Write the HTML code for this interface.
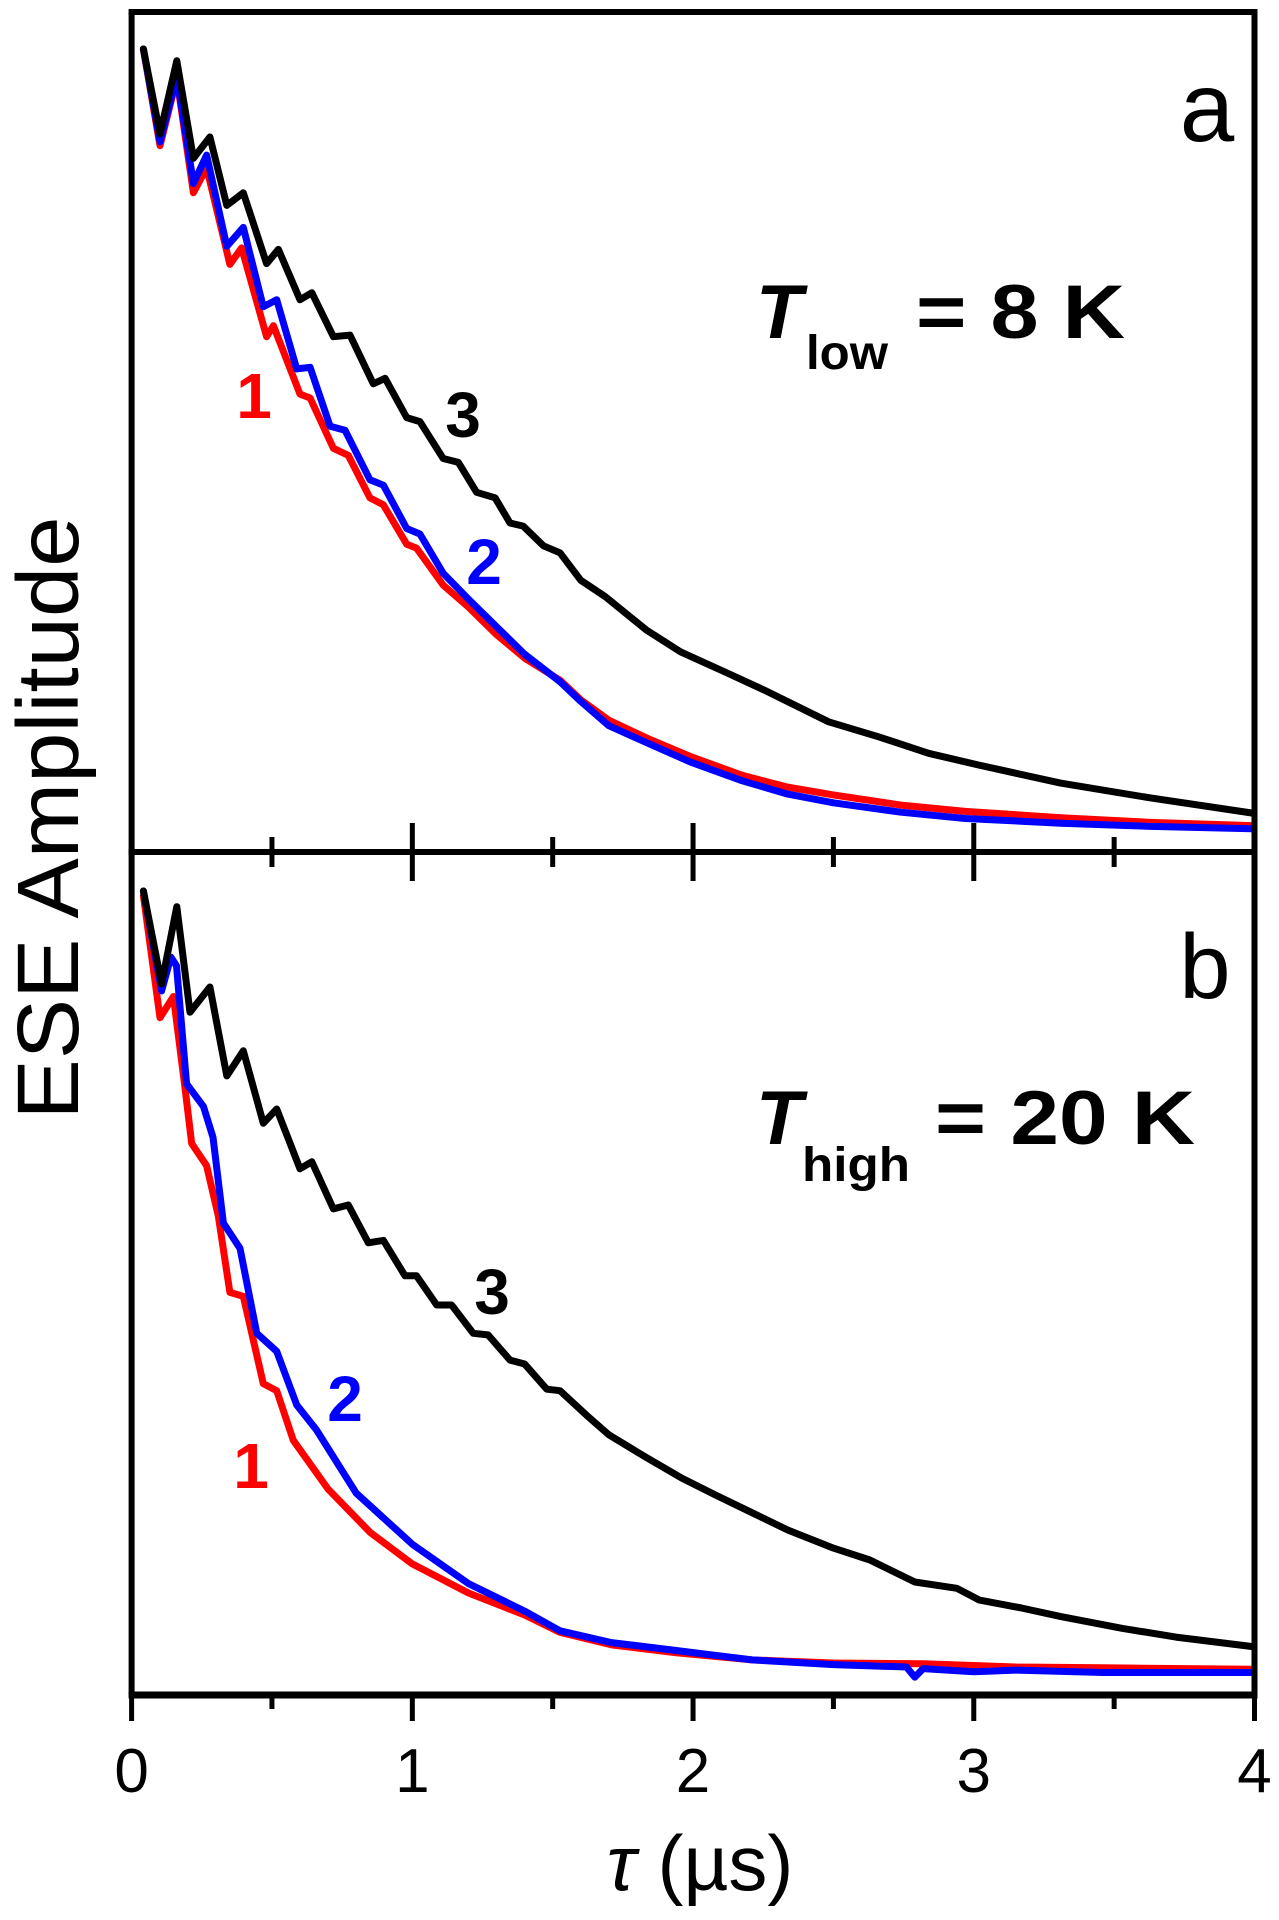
<!DOCTYPE html>
<html><head><meta charset="utf-8"><style>
html,body{margin:0;padding:0;background:#fff;}
svg{display:block;}
text{font-family:"Liberation Sans",Arial,sans-serif;}
</style></head><body>
<svg id="chart" width="1279" height="1920" viewBox="0 0 1279 1920" xmlns="http://www.w3.org/2000/svg">
<g id="curves"></g>
<g id="frame"></g>
<text x="0" y="0" transform="translate(78,818) rotate(-90)" text-anchor="middle" font-size="87" textLength="603" lengthAdjust="spacingAndGlyphs">ESE Amplitude</text>
<text x="700" y="1890" text-anchor="middle" font-size="78" font-family="Liberation Serif, serif"><tspan font-style="italic">τ</tspan> (µs)</text>
<text x="1207" y="141" text-anchor="middle" font-size="98">a</text>
<text x="1205" y="998" text-anchor="middle" font-size="92">b</text>
<g font-weight="bold">
<text x="756" y="338" font-size="76" font-style="italic">T</text>
<text x="806" y="369" font-size="48" textLength="82" lengthAdjust="spacingAndGlyphs">low</text>
<text x="916" y="338" font-size="76" textLength="209" lengthAdjust="spacingAndGlyphs">= 8 K</text>
</g>
<g font-weight="bold">
<text x="756" y="1144" font-size="76" font-style="italic">T</text>
<text x="802" y="1181" font-size="48" textLength="108" lengthAdjust="spacingAndGlyphs">high</text>
<text x="935" y="1144" font-size="76" textLength="260" lengthAdjust="spacingAndGlyphs">= 20 K</text>
</g>
<g font-size="64" font-weight="bold">
<text x="254" y="418" fill="#f00" text-anchor="middle">1</text>
<text x="463" y="437" fill="#000" text-anchor="middle">3</text>
<text x="484" y="584" fill="#00f" text-anchor="middle">2</text>
<text x="492" y="1314" fill="#000" text-anchor="middle">3</text>
<text x="345" y="1421" fill="#00f" text-anchor="middle">2</text>
<text x="251" y="1488" fill="#f00" text-anchor="middle">1</text>
</g>
</svg>
<script>
// x values (µs) and amplitudes
const aBlackT = [0.042,0.101,0.161,0.220,0.279,0.339,0.398,0.481,0.523,0.600,0.642,0.719,0.778,0.861,0.903,0.980,1.027,1.11,1.164,1.229,1.295,1.348,1.395,1.467,1.526,1.60,1.688,1.833,1.956,2.11,2.256,2.483,2.661,2.839,3.017,3.309,3.633,3.99];
const aBlackV = [1.0,0.892,0.985,0.861,0.888,0.801,0.817,0.727,0.745,0.681,0.690,0.634,0.636,0.574,0.581,0.531,0.526,0.479,0.474,0.436,0.429,0.397,0.393,0.368,0.359,0.324,0.303,0.261,0.233,0.208,0.184,0.144,0.125,0.104,0.089,0.066,0.047,0.028];
const aRedT = [0.042,0.101,0.161,0.220,0.267,0.35,0.392,0.481,0.505,0.600,0.636,0.719,0.772,0.849,0.897,0.98,1.015,1.11,1.2,1.3,1.4,1.526,1.6,1.7,1.85,1.99,2.175,2.337,2.5,2.74,2.97,3.31,3.63,3.99];
const aRedV = [1.0,0.877,0.963,0.817,0.849,0.726,0.747,0.634,0.648,0.561,0.556,0.492,0.483,0.429,0.420,0.370,0.365,0.318,0.29,0.255,0.225,0.197,0.172,0.146,0.121,0.100,0.076,0.061,0.051,0.038,0.030,0.022,0.016,0.012];
const aBlueT = [0.042,0.101,0.161,0.220,0.267,0.339,0.398,0.469,0.517,0.588,0.636,0.707,0.76,0.849,0.897,0.98,1.027,1.11,1.2,1.3,1.4,1.526,1.6,1.7,1.85,1.99,2.175,2.337,2.5,2.74,2.97,3.31,3.63,3.99];
const aBlueV = [1.0,0.882,0.965,0.829,0.865,0.749,0.773,0.672,0.681,0.593,0.595,0.520,0.515,0.452,0.445,0.390,0.383,0.333,0.30,0.265,0.23,0.195,0.17,0.139,0.115,0.093,0.069,0.052,0.041,0.029,0.021,0.015,0.011,0.008];
const bBlackT = [0.042,0.107,0.161,0.208,0.279,0.339,0.398,0.469,0.517,0.600,0.642,0.719,0.772,0.843,0.897,0.974,1.015,1.087,1.14,1.217,1.27,1.348,1.4,1.479,1.526,1.62,1.70,1.83,1.96,2.077,2.21,2.337,2.5,2.63,2.79,2.94,3.02,3.17,3.31,3.53,3.72,3.99];
const bBlackV = [1.0,0.882,0.98,0.846,0.878,0.765,0.797,0.705,0.723,0.647,0.656,0.596,0.601,0.553,0.556,0.511,0.511,0.474,0.474,0.438,0.436,0.404,0.399,0.367,0.365,0.334,0.309,0.281,0.254,0.233,0.210,0.188,0.165,0.150,0.122,0.114,0.099,0.089,0.078,0.063,0.052,0.040];
const bRedT = [0.042,0.101,0.149,0.19,0.214,0.267,0.309,0.35,0.398,0.469,0.517,0.576,0.7,0.85,1.0,1.2,1.4,1.526,1.71,1.94,2.21,2.5,2.82,3.15,3.46,3.99];
const bRedV = [0.994,0.839,0.866,0.751,0.679,0.651,0.587,0.490,0.485,0.374,0.365,0.302,0.24,0.185,0.145,0.108,0.08,0.058,0.042,0.032,0.023,0.019,0.018,0.014,0.013,0.011];
const bBlueT = [0.042,0.107,0.14,0.16,0.196,0.256,0.29,0.327,0.386,0.446,0.517,0.588,0.659,0.8,1.0,1.2,1.4,1.526,1.71,1.94,2.21,2.5,2.76,2.79,2.82,3.0,3.15,3.46,3.99];
const bBlueV = [1.0,0.873,0.916,0.905,0.755,0.726,0.687,0.578,0.546,0.438,0.415,0.347,0.315,0.235,0.17,0.12,0.085,0.06,0.045,0.035,0.023,0.017,0.014,0.001,0.012,0.008,0.01,0.007,0.007];
const xTicksMajor = [0,1,2,3,4];
const xTicksMinor = [0.5,1.5,2.5,3.5];
const xTickLabels = ["0","1","2","3","4"];

const NS = "http://www.w3.org/2000/svg";
const X0 = 131.6, X1 = 1254.5;
function xS(t){ return X0 + t*(X1-X0)/4; }
function yA(v){ return 835 - v*786; }
function yB(v){ return 1678 - v*787; }

const curves = document.getElementById('curves');
function drawLine(ts, vs, yf, color, name){
  const p = document.createElementNS(NS,'path');
  let d = '';
  for(let i=0;i<ts.length;i++){ d += (i?'L':'M') + xS(ts[i]).toFixed(1) + ',' + yf(vs[i]).toFixed(1); }
  p.setAttribute('d', d);
  p.setAttribute('fill','none');
  p.setAttribute('stroke',color);
  p.setAttribute('stroke-width','7');
  p.setAttribute('stroke-linejoin','round');
  p.setAttribute('stroke-linecap','round');
  
  
  curves.appendChild(p);
}
drawLine(aRedT, aRedV, yA, '#f00', 'panel-a-curve-1');
drawLine(aBlueT, aBlueV, yA, '#00f', 'panel-a-curve-2');
drawLine(aBlackT, aBlackV, yA, '#000', 'panel-a-curve-3');
drawLine(bRedT, bRedV, yB, '#f00', 'panel-b-curve-1');
drawLine(bBlueT, bBlueV, yB, '#00f', 'panel-b-curve-2');
drawLine(bBlackT, bBlackV, yB, '#000', 'panel-b-curve-3');

const frame = document.getElementById('frame');
function line(x1,y1,x2,y2,w,name){
  const l = document.createElementNS(NS,'line');
  l.setAttribute('x1',x1); l.setAttribute('y1',y1); l.setAttribute('x2',x2); l.setAttribute('y2',y2);
  l.setAttribute('stroke','#000'); l.setAttribute('stroke-width',w);
  
  
  frame.appendChild(l);
}
line(X0,12,X0,1697,6,'left-axis');
line(X1,12,X1,1697,6,'right-axis');
line(X0-3,12,X1+3,12,6,'top-axis');
line(X0-3,852,X1+3,852,6,'middle-axis');
line(X0-3,1695,X1+3,1695,7,'x-axis');
xTicksMajor.forEach(function(t,i){
  line(xS(t),823,xS(t),881,5,'mid-major-tick');
  line(xS(t),1695,xS(t),1721,5,'x-major-tick');
  const tx = document.createElementNS(NS,'text');
  tx.setAttribute('x', xS(t)); tx.setAttribute('y', 1792);
  tx.setAttribute('text-anchor','middle'); tx.setAttribute('font-size','62');
  tx.textContent = xTickLabels[i];
  
  
  frame.appendChild(tx);
});
xTicksMinor.forEach(function(t){
  line(xS(t),837,xS(t),867,5,'mid-minor-tick');
  line(xS(t),1695,xS(t),1709,5,'x-minor-tick');
});
</script>
</body></html>
